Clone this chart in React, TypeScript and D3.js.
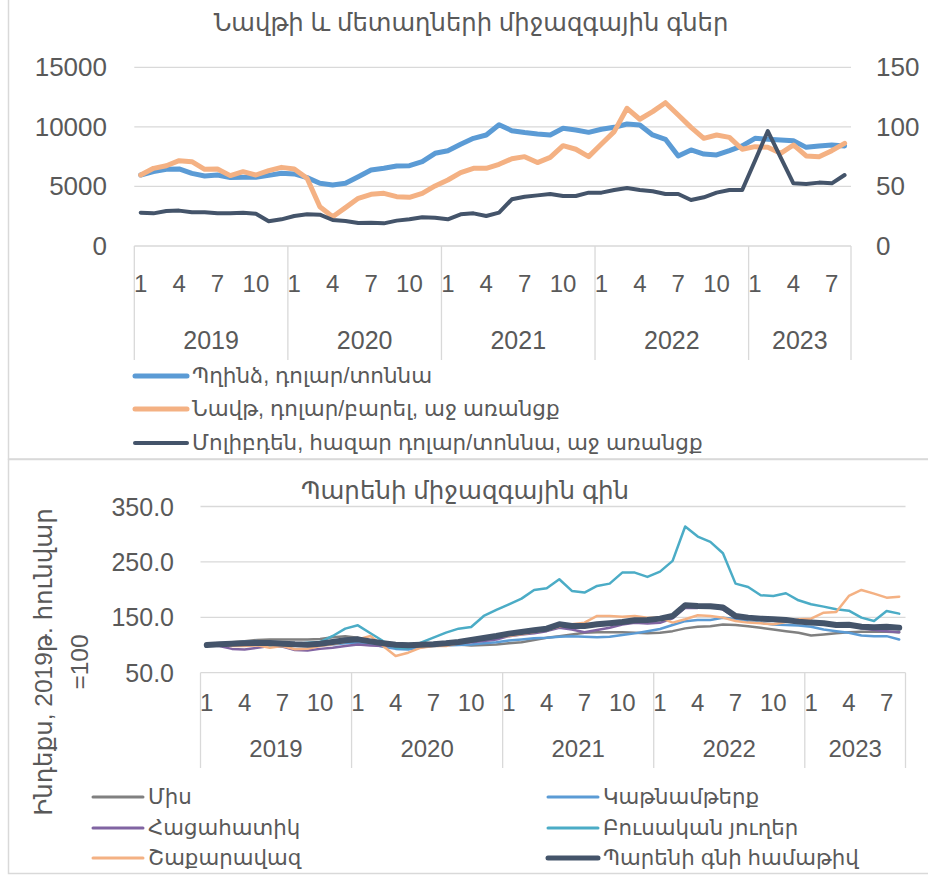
import React from 'react';
import * as d3 from 'd3';

// ---------- data ----------
const years = ['2019', '2020', '2021', '2022', '2023'];
const monthsInYear = [12, 12, 12, 12, 8];
const tickMonths = [1, 4, 7, 10];

// Top chart: copper (USD/t, left axis), crude oil (USD/bbl, right), molybdenum (thousand USD/t, right)
const copper = [
  5960, 6240, 6440, 6470, 6100, 5880, 5960, 5740, 5770, 5770, 5930, 6100,
  6050, 5740, 5260, 5120, 5260, 5820, 6380, 6520, 6720, 6740, 7080, 7780,
  8000, 8540, 9040, 9320, 10180, 9680, 9520, 9400, 9320, 9880, 9740, 9540,
  9800, 9960, 10240, 10160, 9320, 8960, 7560, 8060, 7720, 7640, 8000, 8400,
  9040, 8960, 8900, 8840, 8280, 8400, 8480, 8400,
];
const oil = [
  59.6, 65.2, 67.4, 71.6, 70.8, 64.4, 64.7, 59.1, 62.4, 59.6, 63.3, 66.0,
  64.7, 56.8, 33.0, 24.6, 32.2, 40.0, 43.4, 44.2, 41.4, 40.9, 44.2, 50.4,
  55.4, 61.6, 65.2, 65.2, 68.6, 73.2, 75.0, 70.0, 74.4, 84.2, 81.2, 75.0,
  85.6, 96.0, 115.6, 106.4, 112.8, 120.3, 110.0, 99.6, 90.4, 93.2, 91.2, 81.2,
  83.4, 82.8, 77.8, 84.8, 75.6, 75.0, 80.0, 86.2,
];
const molybdenum = [
  28.0, 27.4, 29.4, 29.7, 28.3, 28.3, 27.4, 27.4, 28.0, 27.1, 20.7, 22.4,
  25.2, 26.6, 26.3, 21.8, 21.0, 19.3, 19.6, 19.0, 21.3, 22.4, 24.1, 23.8,
  22.4, 26.6, 27.4, 25.2, 28.0, 39.2, 41.4, 42.5, 43.7, 42.0, 42.0, 44.8,
  44.8, 47.0, 48.7, 47.0, 45.9, 43.7, 43.7, 38.6, 40.9, 44.8, 47.0, 47.0,
  71.6, 96.5, 74.4, 52.6, 52.1, 53.2, 52.6, 59.6,
];

// Bottom chart: FAO indices, January 2019 = 100
const meat = [
  100, 102, 105, 107, 109, 110, 110, 110, 110, 111, 114, 116,
  113, 107, 104, 103, 102, 102, 101, 101, 101, 99, 100, 101,
  103, 105, 109, 113, 116, 119, 122, 123, 123, 123, 122, 121,
  122, 125, 130, 133, 134, 137, 136, 134, 131, 128, 125, 122,
  117, 119, 121, 123, 124, 124, 124, 123,
];
const dairy = [
  100, 102, 104, 106, 107, 104, 101, 99, 98, 99, 101, 103,
  104, 102, 97, 93, 92, 96, 98, 99, 100, 101, 103, 105,
  108, 110, 112, 113, 115, 116, 115, 114, 115, 118, 121, 125,
  129, 136, 143, 145, 145, 149, 147, 143, 140, 137, 136, 135,
  133, 128, 125, 122, 117, 116, 116, 110,
];
const cereals = [
  100, 98, 93, 92, 95, 98, 97, 91, 90, 93, 95, 98,
  101, 99, 98, 99, 98, 99, 100, 101, 103, 105, 107, 110,
  116, 119, 121, 125, 131, 128, 123, 127, 131, 137, 140, 139,
  140, 148, 167, 167, 170, 164, 149, 148, 146, 145, 143, 143,
  142, 141, 137, 136, 130, 127, 125, 123,
];
const vegOils = [
  100, 100.6, 102.4, 103, 101.2, 98.2, 98.2, 101.2, 104.2, 105.4, 116.3, 129.5,
  135.5, 121.1, 107.2, 95.2, 94, 104.2, 113.3, 122.3, 129.5, 132.5, 152.4, 163.3,
  173.5, 183.7, 199.4, 202.4, 218.7, 197.6, 194.6, 206.6, 210.8, 230.7, 230.7, 222.9,
  232.5, 251.8, 313.9, 295.8, 286.1, 265.7, 210.8, 204.8, 189.8, 188.6, 193.4, 180.7,
  173.5, 169.3, 164.5, 162.0, 149.4, 143.4, 161.4, 156.6,
];
const sugar = [
  100, 100, 98.2, 98.2, 99.4, 95.2, 98.2, 92.2, 93.4, 98.2, 101.2, 106,
  110.2, 116.3, 98.2, 80.1, 86.1, 95.2, 98.2, 98.2, 103, 107.2, 111.4, 115.1,
  116.3, 119.3, 123.5, 127.1, 133.1, 137.3, 140.4, 152.4, 152.4, 151.2, 152.4, 149.4,
  149.4, 140.4, 146.4, 153.6, 152.4, 149.4, 143.4, 140.4, 139.2, 137.3, 141.6, 146.4,
  147.6, 158.4, 159.6, 188.6, 199.4, 192.8, 185.5, 187.3,
];
const foodIndex = [
  100, 101.2, 102.4, 103, 103.6, 103.6, 102.4, 101.2, 100.6, 102.4, 105.4, 108.4,
  110.2, 106.6, 103, 100.6, 99.4, 100.6, 101.2, 103, 105.4, 109, 112.7, 116.3,
  120.5, 123.5, 126.5, 129.5, 137.3, 134.3, 134.3, 137.3, 139.2, 141.6, 144.6, 145.2,
  147.6, 152.4, 171.7, 170.5, 169.9, 167.5, 152.4, 149.4, 147.6, 146.4, 145.2, 142.2,
  140.4, 139.2, 136.1, 136.7, 133.1, 131.9, 133.1, 131.3,
];

const leftTicks = [0, 5000, 10000, 15000];
const rightTicks = [0, 50, 100, 150];
const bottomTicks = [50, 150, 250, 350];

const topTitle = 'Նավթի և մետաղների միջազգային գներ';
const bottomTitle = 'Պարենի միջազգային գին';
const yTitleLines = ['Ինդեքս, 2019թ. հունվար', '=100'];

const topSeries = [
  { name: 'Պղինձ, դոլար/տոննա', values: copper, axis: 'left', color: '#5B9BD5', width: 5 },
  { name: 'Նավթ, դոլար/բարել, աջ առանցք', values: oil, axis: 'right', color: '#F4B183', width: 5 },
  { name: 'Մոլիբդեն, հազար դոլար/տոննա, աջ առանցք', values: molybdenum, axis: 'right', color: '#44546A', width: 4 },
];
const bottomSeries = [
  { name: 'Միս', values: meat, color: '#808080', width: 2.5 },
  { name: 'Կաթնամթերք', values: dairy, color: '#5B9BD5', width: 2.5 },
  { name: 'Հացահատիկ', values: cereals, color: '#8064A2', width: 2.5 },
  { name: 'Բուսական յուղեր', values: vegOils, color: '#4BACC6', width: 2.5 },
  { name: 'Շաքարավազ', values: sugar, color: '#F4B183', width: 2.5 },
  { name: 'Պարենի գնի համաթիվ', values: foodIndex, color: '#44546A', width: 6 },
];

// ---------- helpers ----------
const FONT = "'Liberation Sans', 'DejaVu Sans', Arial, sans-serif";
const TXT = '#595959';
const GRID = '#D9D9D9';

const categories: { year: string; month: number; key: string }[] = [];
years.forEach((y, k) => {
  for (let m = 1; m <= monthsInYear[k]; m++) categories.push({ year: y, month: m, key: `${y}-${m}` });
});

function CategoryAxis({ x, axisY, sepBottom, tickY, yearY, tickSize, yearSize }) {
  const bw = x.bandwidth();
  const [, r1] = x.range();
  const boundaries: number[] = [];
  years.forEach((y) => boundaries.push(x(`${y}-1`)));
  boundaries.push(r1);
  return (
    <g>
      {boundaries.map((bx, i) => (
        <line key={i} x1={bx} x2={bx} y1={axisY} y2={sepBottom} stroke={GRID} strokeWidth={1.3} />
      ))}
      {categories
        .filter((c) => tickMonths.includes(c.month))
        .map((c) => (
          <text key={c.key} x={x(c.key) + bw / 2} y={tickY} textAnchor="middle" dominantBaseline="central"
            fontSize={tickSize} fill={TXT} fontFamily={FONT}>{c.month}</text>
        ))}
      {years.map((y, k) => {
        const a = x(`${y}-1`);
        const b = x(`${y}-${monthsInYear[k]}`) + bw;
        return (
          <text key={y} x={(a + b) / 2} y={yearY} textAnchor="middle" dominantBaseline="central"
            fontSize={yearSize} fill={TXT} fontFamily={FONT}>{y}</text>
        );
      })}
    </g>
  );
}

function TopChart() {
  const x = d3.scaleBand().domain(categories.map((c) => c.key)).range([134.3, 851]).padding(0);
  const yL = d3.scaleLinear().domain([0, 15000]).range([246, 67.3]);
  const yR = d3.scaleLinear().domain([0, 150]).range([246, 67.3]);
  const bw = x.bandwidth();
  const cx = (i: number) => x(categories[i].key) + bw / 2;
  return (
    <g>
      <text x={471} y={22} textAnchor="middle" dominantBaseline="central" fontSize={24.3} fill={TXT} fontFamily={FONT}>{topTitle}</text>
      {leftTicks.map((t) => (
        <line key={t} x1={134.3} x2={851} y1={yL(t)} y2={yL(t)} stroke={GRID} strokeWidth={1.3} />
      ))}
      {leftTicks.map((t) => (
        <text key={t} x={107} y={yL(t)} textAnchor="end" dominantBaseline="central" fontSize={26} fill={TXT} fontFamily={FONT}>{t}</text>
      ))}
      {rightTicks.map((t) => (
        <text key={t} x={876} y={yR(t)} textAnchor="start" dominantBaseline="central" fontSize={26} fill={TXT} fontFamily={FONT}>{t}</text>
      ))}
      <CategoryAxis x={x} axisY={246} sepBottom={360} tickY={283} yearY={340} tickSize={24} yearSize={25} />
      {topSeries.map((s) => {
        const y = s.axis === 'left' ? yL : yR;
        const line = d3.line<number>().x((_, i) => cx(i)).y((v) => y(v));
        return <path key={s.name} d={line(s.values) || ''} fill="none" stroke={s.color} strokeWidth={s.width}
          strokeLinejoin="round" strokeLinecap="round" />;
      })}
      {topSeries.map((s, i) => {
        const ly = [376, 409, 443][i];
        return (
          <g key={s.name}>
            <line x1={135} x2={187} y1={ly} y2={ly} stroke={s.color} strokeWidth={s.width} strokeLinecap="round" />
            <text x={192} y={ly} dominantBaseline="central" fontSize={21.5} fill={TXT} fontFamily={FONT}>{s.name}</text>
          </g>
        );
      })}
    </g>
  );
}

function BottomChart() {
  const x = d3.scaleBand().domain(categories.map((c) => c.key)).range([200.5, 905.5]).padding(0);
  const y = d3.scaleLinear().domain([50, 350]).range([672.7, 506.5]);
  const bw = x.bandwidth();
  const cx = (i: number) => x(categories[i].key) + bw / 2;
  const line = d3.line<number>().x((_, i) => cx(i)).y((v) => y(v));
  return (
    <g>
      <text x={465} y={490} textAnchor="middle" dominantBaseline="central" fontSize={24.5} fill={TXT} fontFamily={FONT}>{bottomTitle}</text>
      {bottomTicks.map((t) => (
        <line key={t} x1={200.5} x2={905.5} y1={y(t)} y2={y(t)} stroke={GRID} strokeWidth={1.3} />
      ))}
      {bottomTicks.map((t) => (
        <text key={t} x={174} y={y(t)} textAnchor="end" dominantBaseline="central" fontSize={25} fill={TXT} fontFamily={FONT}>{d3.format('.1f')(t)}</text>
      ))}
      {yTitleLines.map((l, i) => (
        <text key={i} transform={`translate(${[43, 79][i]},662) rotate(-90)`} textAnchor="middle" dominantBaseline="central"
          fontSize={24.5} fill={TXT} fontFamily={FONT}>{l}</text>
      ))}
      <CategoryAxis x={x} axisY={672.7} sepBottom={768} tickY={702} yearY={748} tickSize={24} yearSize={24} />
      {bottomSeries.map((s) => (
        <path key={s.name} d={line(s.values) || ''} fill="none" stroke={s.color} strokeWidth={s.width}
          strokeLinejoin="round" strokeLinecap="round" />
      ))}
      {bottomSeries.map((s, i) => {
        const col = i % 2;
        const row = Math.floor(i / 2);
        const lx = [93, 548][col];
        const ly = [797, 828, 858][row];
        return (
          <g key={s.name}>
            <line x1={lx} x2={lx + 50} y1={ly} y2={ly} stroke={s.color} strokeWidth={s.width === 6 ? 5 : 3} strokeLinecap="round" />
            <text x={lx + 55} y={ly} dominantBaseline="central" fontSize={21.3} fill={TXT} fontFamily={FONT}>{s.name}</text>
          </g>
        );
      })}
    </g>
  );
}

export default function App() {
  return (
    <svg width={928} height={877} style={{ position: 'absolute', left: 0, top: 0, background: '#fff' }}>
      <rect x={0} y={0} width={928} height={877} fill="#fff" />
      <rect x={8.5} y={-2} width={940} height={461} fill="none" stroke={GRID} strokeWidth={1.5} />
      <rect x={8.5} y={459.5} width={940} height={414} fill="none" stroke={GRID} strokeWidth={1.5} />
      <TopChart />
      <BottomChart />
    </svg>
  );
}
